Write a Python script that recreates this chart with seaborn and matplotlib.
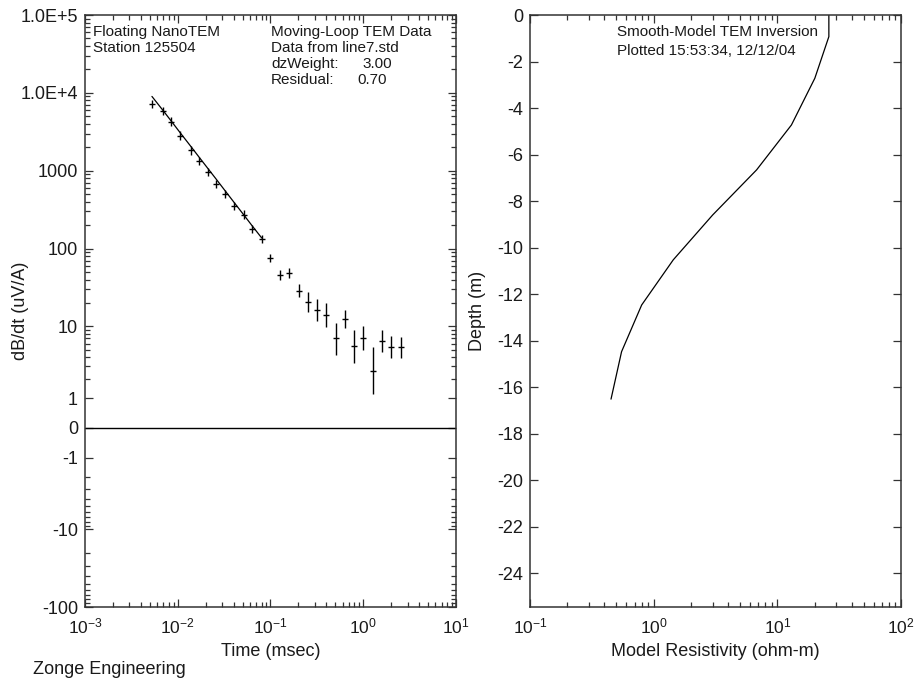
import matplotlib
matplotlib.use("Agg")
import matplotlib.pyplot as plt
import seaborn as sns
import pandas as pd
from matplotlib.ticker import FixedLocator, FixedFormatter, NullFormatter

# ---------------- data ----------------
time_ms = [0.00527, 0.00689, 0.00839, 0.01066, 0.0139, 0.01706, 0.0212, 0.0261,
           0.0323, 0.0407, 0.0514, 0.0637, 0.0804, 0.0995, 0.1265, 0.1595,
           0.2014, 0.252, 0.317, 0.400, 0.505, 0.635, 0.794, 1.0, 1.26, 1.59,
           2.0, 2.53]
dbdt = [7200, 5870, 4280, 2830, 1820, 1330, 960, 680, 505, 354, 274, 180, 134,
        75.5, 45.7, 48.5, 28.7, 20.6, 16.4, 13.9, 7.0, 12.35, 5.57, 7.08, 2.62,
        6.53, 5.45, 5.45]
dbdt_lo = [6350, 5200, 3800, 2500, 1610, 1180, 850, 600, 447, 313, 242, 159, 118,
           67.5, 39.4, 41.8, 23.6, 15.3, 11.9, 9.8, 4.25, 9.45, 3.35, 4.94, 1.17,
           4.69, 3.84, 3.84]
dbdt_hi = [8200, 6650, 4850, 3200, 2060, 1500, 1085, 770, 570, 400, 310, 204, 151,
           84.5, 53.0, 56.3, 35.0, 27.7, 22.6, 19.8, 11.2, 16.3, 8.99, 10.12, 5.35,
           8.99, 7.52, 7.23]

model_time = [0.00527, 0.00689, 0.00839, 0.01066, 0.0139, 0.01706, 0.0212,
              0.0261, 0.0323, 0.0407, 0.0514, 0.0637, 0.0804]
model_dbdt = [9000, 6010, 4440, 3060, 2040, 1485, 1064, 774, 556, 389, 272, 195, 137]

depth_m = [0, -0.93, -2.72, -4.73, -6.66, -8.6, -10.53, -12.47, -14.48, -16.52]
resistivity = [26.1, 26.1, 20.1, 13.0, 6.8, 3.0, 1.44, 0.80, 0.55, 0.452]

left_yticks = [1e5, 1e4, 1000, 100, 10, 1, 0, -1, -10, -100]
left_yticklabels = ["1.0E+5", "1.0E+4", "1000", "100", "10", "1", "0", "-1", "-10", "-100"]
left_xticks = [1e-3, 1e-2, 1e-1, 1, 10]
left_xticklabels = [r"$\mathregular{10^{-3}}$", r"$\mathregular{10^{-2}}$",
                    r"$\mathregular{10^{-1}}$", r"$\mathregular{10^{0}}$",
                    r"$\mathregular{10^{1}}$"]
right_xticks = [0.1, 1, 10, 100]
right_xticklabels = [r"$\mathregular{10^{-1}}$", r"$\mathregular{10^{0}}$",
                     r"$\mathregular{10^{1}}$", r"$\mathregular{10^{2}}$"]
right_yticks = [0, -2, -4, -6, -8, -10, -12, -14, -16, -18, -20, -22, -24]

# ---------------- style ----------------
sns.set_theme(style="ticks")
plt.rcParams["font.family"] = ["Liberation Sans", "DejaVu Sans"]
plt.rcParams["mathtext.fontset"] = "custom"
plt.rcParams["mathtext.rm"] = "Liberation Sans"
plt.rcParams["axes.unicode_minus"] = False

SPINE = "#333333"
TXT = "#1a1a1a"

W, H = 915, 681
fig = plt.figure(figsize=(W / 100, H / 100), dpi=100)
fig.patch.set_facecolor("white")


def px(x, y):
    return x / W, 1 - y / H


ax1 = fig.add_axes([85 / W, 1 - 607 / H, 371 / W, 592 / H])
ax2 = fig.add_axes([530 / W, 1 - 607 / H, 371 / W, 592 / H])

for ax in (ax1, ax2):
    for s in ax.spines.values():
        s.set_color(SPINE)
        s.set_linewidth(1.1)
        s.set_visible(True)
    ax.tick_params(which="both", direction="in", top=True, right=True,
                   color=SPINE, width=0.9, colors=TXT)
    ax.tick_params(which="major", length=6, pad=5)
    ax.tick_params(which="minor", length=3.5)
    ax.tick_params(axis="x", which="major", pad=7)

# ---------------- left plot ----------------
df_data = pd.DataFrame({"time": time_ms, "dbdt": dbdt, "lo": dbdt_lo, "hi": dbdt_hi})
df_model = pd.DataFrame({"time": model_time, "dbdt": model_dbdt})

ax1.set_xscale("log")
ax1.set_yscale("asinh", linear_width=1)
ax1.set_xlim(1e-3, 10)
ax1.set_ylim(-100, 1e5)

ax1.axhline(0, color="black", lw=1.0)
sns.lineplot(data=df_model, x="time", y="dbdt", ax=ax1, color="black", lw=0.9,
             sort=False, estimator=None)
ax1.vlines(df_data["time"], df_data["lo"], df_data["hi"], color="black", lw=1.0)
sns.scatterplot(data=df_data, x="time", y="dbdt", ax=ax1, marker="_", s=22,
                color="black", linewidth=1.0)

ax1.yaxis.set_major_locator(FixedLocator(left_yticks))
ax1.yaxis.set_major_formatter(FixedFormatter(left_yticklabels))
minor_pos = [m * 10 ** k for k in range(0, 5) for m in range(2, 10)]
minor_neg = [-m * 10 ** k for k in range(0, 2) for m in range(2, 10)]
ax1.yaxis.set_minor_locator(FixedLocator(minor_pos + minor_neg))
ax1.yaxis.set_minor_formatter(NullFormatter())
ax1.xaxis.set_major_locator(FixedLocator(left_xticks))
ax1.xaxis.set_major_formatter(FixedFormatter(left_xticklabels))
ax1.xaxis.set_minor_formatter(NullFormatter())
ax1.tick_params(axis="y", labelsize=13)
ax1.tick_params(axis="x", labelsize=12.5)
ax1.set_xlabel("Time (msec)", fontsize=13, color=TXT)
ax1.set_ylabel("dB/dt (uV/A)", fontsize=13, color=TXT)
ax1.xaxis.set_label_coords(0.5, -(652 - 607) / 592)
ax1.yaxis.set_label_coords((20 - 85) / 371, 0.5)
ax1.xaxis.label.set_va("center")
ax1.yaxis.label.set_va("center")

# ---------------- right plot ----------------
df_res = pd.DataFrame({"res": resistivity, "depth": depth_m})
ax2.set_xscale("log")
ax2.set_xlim(0.1, 100)
ax2.set_ylim(-25.46, 0)
sns.lineplot(data=df_res, x="res", y="depth", ax=ax2, color="black", lw=0.9,
             sort=False, estimator=None)
ax2.xaxis.set_major_locator(FixedLocator(right_xticks))
ax2.xaxis.set_major_formatter(FixedFormatter(right_xticklabels))
ax2.xaxis.set_minor_formatter(NullFormatter())
ax2.yaxis.set_major_locator(FixedLocator(right_yticks))
ax2.yaxis.set_minor_locator(FixedLocator([]))
ax2.tick_params(axis="y", labelsize=13)
ax2.tick_params(axis="x", labelsize=12.5)
ax2.set_xlabel("Model Resistivity (ohm-m)", fontsize=13, color=TXT)
ax2.set_ylabel("Depth (m)", fontsize=13, color=TXT)
ax2.xaxis.set_label_coords(0.5, -(652 - 607) / 592)
ax2.yaxis.set_label_coords((478 - 530) / 371, 0.5)
ax2.xaxis.label.set_va("center")
ax2.yaxis.label.set_va("center")

# ---------------- annotations ----------------
fs = 11
fig.text(*px(93, 32), "Floating NanoTEM", fontsize=fs, va="center", color=TXT)
fig.text(*px(93, 48), "Station 125504", fontsize=fs, va="center", color=TXT)
fig.text(*px(271, 32), "Moving-Loop TEM Data", fontsize=fs, va="center", color=TXT)
fig.text(*px(271, 48), "Data from line7.std", fontsize=fs, va="center", color=TXT)
fig.text(*px(271, 64), "dzWeight:", fontsize=fs, va="center", color=TXT)
fig.text(*px(392, 64), "3.00", fontsize=fs, va="center", ha="right", color=TXT)
fig.text(*px(271, 80), "Residual:", fontsize=fs, va="center", color=TXT)
fig.text(*px(387, 80), "0.70", fontsize=fs, va="center", ha="right", color=TXT)
fig.text(*px(617, 32), "Smooth-Model TEM Inversion", fontsize=fs, va="center", color=TXT)
fig.text(*px(617, 51), "Plotted 15:53:34, 12/12/04", fontsize=fs, va="center", color=TXT)
fig.text(*px(33, 669), "Zonge Engineering", fontsize=13, va="center", color=TXT)

fig.savefig("out.png", dpi=100, facecolor="white")
